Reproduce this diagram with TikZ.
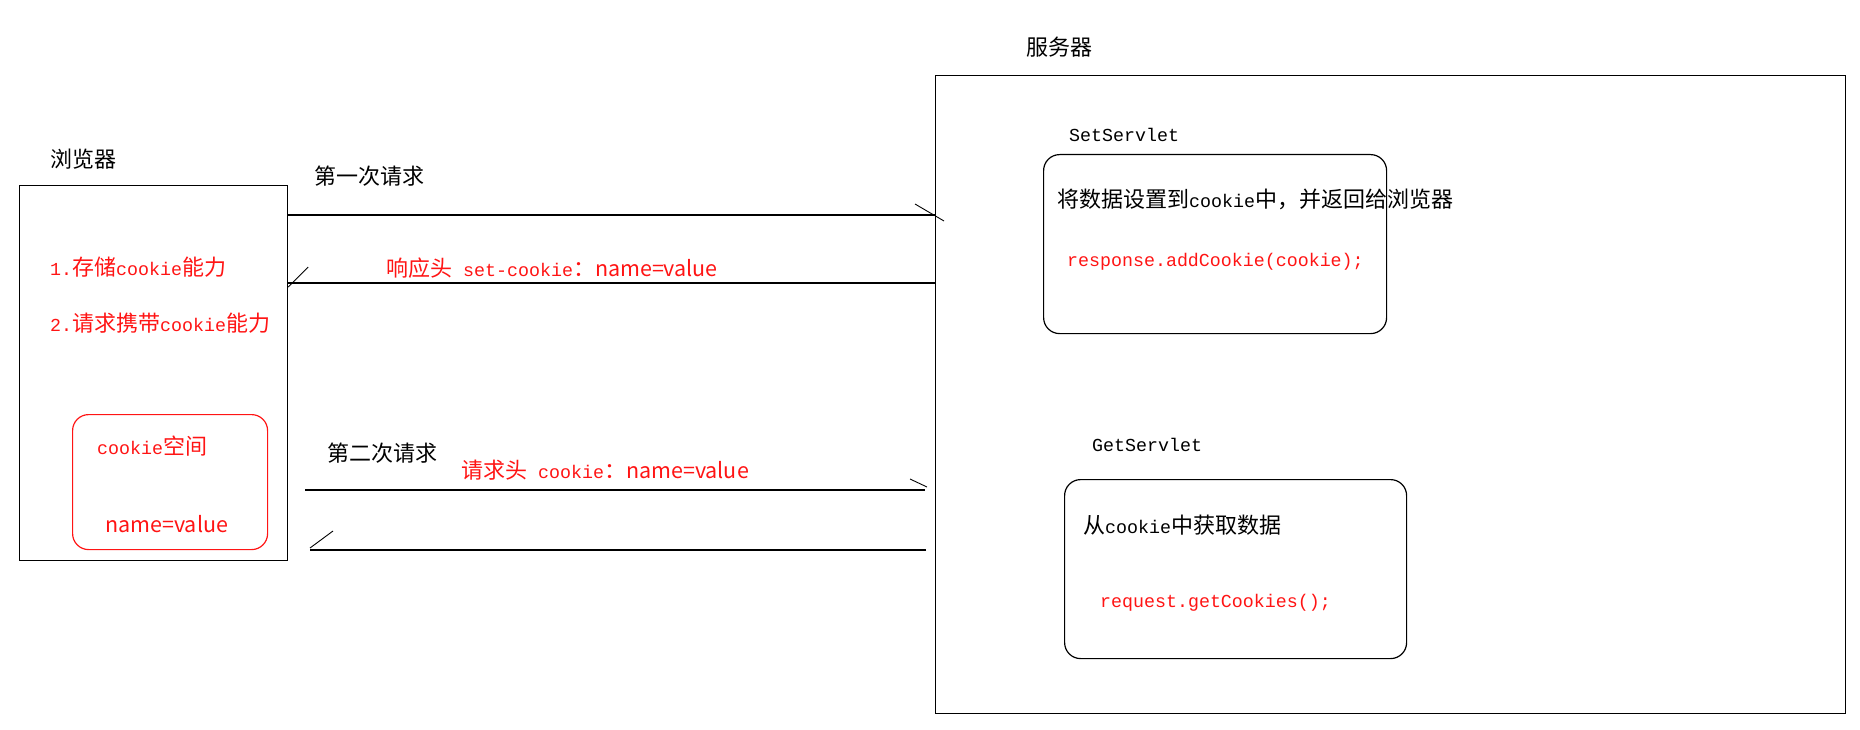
\documentclass[tikz,border=0pt]{standalone}
\usepackage{fontspec}
\usepackage{tikz}
\setmainfont{Noto Sans CJK SC}
\newfontfamily\monof{Liberation Mono}
\newcommand{\cn}{\fontsize{22}{26}\selectfont}
\newcommand{\mn}[1]{{\monof\fontsize{18.3}{22}\selectfont #1}}
\newcommand{\nv}{{\fontsize{21.5}{26}\selectfont name=value}}
\definecolor{cookiered}{RGB}{255,20,20}

\begin{document}
\begin{tikzpicture}[x=1pt, y=-1pt,
    box/.style={draw, line width=1.2pt, anchor=north west, inner sep=0pt},
    rbox/.style={box, rounded corners=16pt},
    lbl/.style={anchor=west, inner sep=0pt, font=\cn},
    redlbl/.style={lbl, text=cookiered},
    barb/.style={line width=0.9pt}]
    \useasboundingbox (0,0) rectangle (1860,730);

    % browser side
    \node (browser) [box, minimum width=268pt, minimum height=375pt] at (19,185) {};
    \node (browserlbl) [lbl] at (50,159) {浏览器};
    \node (ability1) [redlbl] at (50,267) {\mn{1.}存储\mn{cookie}能力};
    \node (ability2) [redlbl] at (50,323) {\mn{2.}请求携带\mn{cookie}能力};
    \node (cookiebox) [rbox, draw=cookiered, minimum width=195pt, minimum height=135pt] at (72,414) {};
    \node (cookiespace) [redlbl] at (97,446) {\mn{cookie}空间};
    \node (cookieval) [redlbl] at (105,524) {\nv};

    % server side
    \node (server) [box, minimum width=910pt, minimum height=638pt] at (935,75) {};
    \node (serverlbl) [lbl] at (1026,47) {服务器};
    \node (setbox) [rbox, minimum width=343pt, minimum height=179pt] at (1043,154) {};
    \node (setlbl) [lbl] at (1069,135) {\mn{SetServlet}};
    \node (setdesc) [lbl] at (1057,199) {将数据设置到\mn{cookie}中，并返回给浏览器};
    \node (setcode) [redlbl] at (1067,262) {\mn{response.addCookie(cookie);}};
    \node (getbox) [rbox, minimum width=342pt, minimum height=179pt] at (1064,479) {};
    \node (getlbl) [lbl] at (1092,445) {\mn{GetServlet}};
    \node (getdesc) [lbl] at (1083,525) {从\mn{cookie}中获取数据};
    \node (getcode) [redlbl] at (1100,603) {\mn{request.getCookies();}};

    % first round trip
    \coordinate (req1s) at ([yshift=-30pt]browser.north east);
    \coordinate (req1e) at (req1s -| server.west);
    \coordinate (resp1e) at ([yshift=-98pt]browser.north east);
    \coordinate (resp1s) at (resp1e -| server.west);
    \draw[line width=1.2pt] (req1s) -- (req1e);
    \draw[barb] ([shift={(-20,-11)}]req1e) -- ++(29,17);
    \draw[line width=1.2pt] (resp1s) -- (resp1e);
    \draw[barb] ([shift={(0,4)}]resp1e) -- ++(20,-20);
    \node (req1lbl) [lbl] at (314,176) {第一次请求};
    \node (resp1lbl) [redlbl] at (386,268) {响应头\mn{\ set-cookie}：\nv};

    % second round trip
    \coordinate (req2s) at (305,490);
    \coordinate (req2e) at (925,490);
    \coordinate (resp2s) at (926,550);
    \coordinate (resp2e) at (310,550);
    \draw[line width=1.2pt] (req2s) -- (req2e);
    \draw[barb] ([shift={(-15,-11)}]req2e) -- ++(17,8);
    \draw[line width=1.2pt] (resp2s) -- (resp2e);
    \draw[barb] ([shift={(0,-2)}]resp2e) -- ++(23,-17);
    \node (req2lbl) [lbl] at (327,453) {第二次请求};
    \node (req2hdr) [redlbl] at (461,470) {请求头\mn{\ cookie}：\nv};
\end{tikzpicture}
\end{document}
